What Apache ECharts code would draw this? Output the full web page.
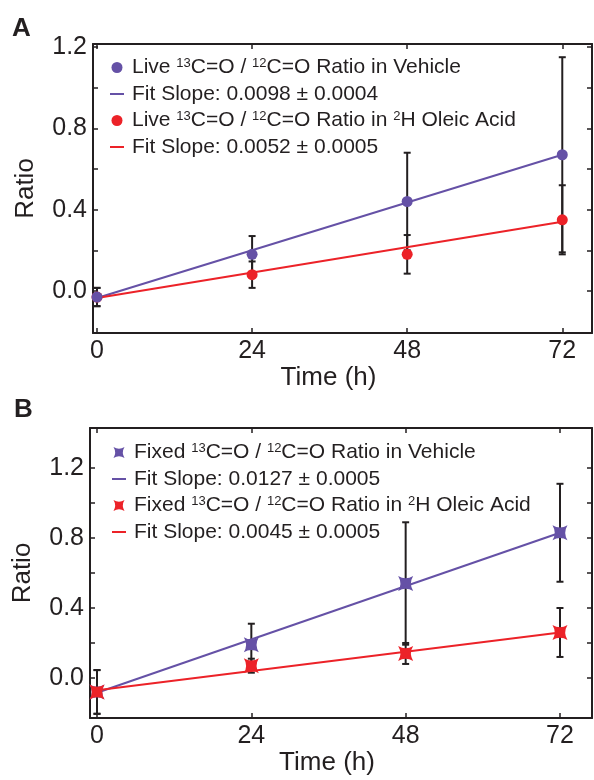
<!DOCTYPE html>
<html>
<head>
<meta charset="utf-8">
<script src="https://cdn.jsdelivr.net/npm/echarts@6/dist/echarts.min.js"></script>
<style>html,body{margin:0;padding:0;background:#fff;}#c{width:594px;height:780px;}</style>
</head>
<body>
<div id="c"></div>
<script>
// ---- Data ----
const timePoints = [0, 24, 48, 72];
const fitTimes = [0, 72];
const xTicks = [0, 24, 48, 72];
const yTickLabels = [0, 0.4, 0.8, 1.2];
const yMinorTicks = [0, 0.2, 0.4, 0.6, 0.8, 1.0, 1.2];

// Panel A: live cells
const liveVehicleMean = [-0.03, 0.18, 0.44, 0.67];
const liveVehicleErr  = [0.045, 0.09, 0.24, 0.48];
const liveOleicMean   = [-0.03, 0.08, 0.18, 0.35];
const liveOleicErr    = [0.045, 0.065, 0.095, 0.17];
const liveVehicleFit  = [-0.035, 0.67];
const liveOleicFit    = [-0.035, 0.34];

// Panel B: fixed cells
const fixedVehicleMean = [-0.08, 0.19, 0.54, 0.83];
const fixedVehicleErr  = [0.125, 0.12, 0.35, 0.28];
const fixedOleicMean   = [-0.08, 0.07, 0.14, 0.26];
const fixedOleicErr    = [0.125, 0.04, 0.06, 0.14];
const fixedVehicleFit  = [-0.085, 0.83];
const fixedOleicFit    = [-0.07, 0.26];

const legendA = ['Live Vehicle', 'Fit Vehicle A', 'Live Oleic', 'Fit Oleic A'];
const legendB = ['Fixed Vehicle', 'Fit Vehicle B', 'Fixed Oleic', 'Fit Oleic B'];
const legendText = {
  'Live Vehicle': '{a|Live }{s|13}{a|C=O / }{s|12}{a|C=O Ratio in Vehicle}',
  'Fit Vehicle A': '{a|Fit Slope: 0.0098 ± 0.0004}',
  'Live Oleic': '{a|Live }{s|13}{a|C=O / }{s|12}{a|C=O Ratio in }{s|2}{a|H Oleic Acid}',
  'Fit Oleic A': '{a|Fit Slope: 0.0052 ± 0.0005}',
  'Fixed Vehicle': '{a|Fixed }{s|13}{a|C=O / }{s|12}{a|C=O Ratio in Vehicle}',
  'Fit Vehicle B': '{a|Fit Slope: 0.0127 ± 0.0005}',
  'Fixed Oleic': '{a|Fixed }{s|13}{a|C=O / }{s|12}{a|C=O Ratio in }{s|2}{a|H Oleic Acid}',
  'Fit Oleic B': '{a|Fit Slope: 0.0045 ± 0.0005}'
};

// ---- Styles ----
const FONT = '"Liberation Sans", Arial, Helvetica, sans-serif';
const INK = '#231f20';
const PURPLE = '#6551a6';
const RED = '#ec2228';
const STAR = 'path://M0,0 Q10,6 20,0 Q14,10 20,20 Q10,14 0,20 Q6,10 0,0 Z';
const DASH = 'path://M0,0 L0,0 M0,4.5 L14,4.5 L14,6.5 L0,6.5 Z M14,11 L14,11';

function pairs(xs, ys) { return xs.map((x, i) => [x, ys[i]]); }
function errData(xs, m, e) { return xs.map((x, i) => [x, m[i] - e[i], m[i] + e[i]]); }

function errorSeries(xi, data) {
  return {
    type: 'custom', xAxisIndex: xi, yAxisIndex: xi, z: 2, silent: true,
    data: data,
    renderItem: function (params, api) {
      const x = api.value(0);
      const lo = api.coord([x, api.value(1)]);
      const hi = api.coord([x, api.value(2)]);
      const w = 3.5;
      const st = { stroke: INK, lineWidth: 2 };
      return { type: 'group', children: [
        { type: 'line', shape: { x1: lo[0], y1: lo[1], x2: hi[0], y2: hi[1] }, style: st },
        { type: 'line', shape: { x1: lo[0] - w, y1: lo[1], x2: lo[0] + w, y2: lo[1] }, style: st },
        { type: 'line', shape: { x1: hi[0] - w, y1: hi[1], x2: hi[0] + w, y2: hi[1] }, style: st }
      ]};
    }
  };
}
function fitSeries(name, xi, data, color) {
  return { name: name, type: 'line', xAxisIndex: xi, yAxisIndex: xi, z: 3, symbol: 'none',
    data: data, lineStyle: { color: color, width: 2 }, itemStyle: { color: color }, silent: true };
}
function markerSeries(name, xi, data, color, symbol, size) {
  return { name: name, type: 'scatter', xAxisIndex: xi, yAxisIndex: xi, z: 5, symbol: symbol,
    symbolSize: size, data: data, itemStyle: { color: color, opacity: 1 }, silent: true };
}

function xAxes(grid, min, max, gap) {
  const base = {
    gridIndex: grid, type: 'value', min: min, max: max,
    axisLine: { show: true, onZero: false, lineStyle: { color: INK, width: 2 } },
    axisTick: { show: true, inside: true, length: 5, customValues: xTicks, lineStyle: { color: INK, width: 1.5 } },
    splitLine: { show: false }
  };
  return [
    Object.assign({}, base, {
      position: 'bottom',
      axisLabel: { show: true, customValues: xTicks, margin: 6, color: INK, fontSize: 25, fontFamily: FONT },
      name: 'Time (h)', nameLocation: 'middle', nameGap: gap,
      nameTextStyle: { color: INK, fontSize: 26, fontFamily: FONT, padding: [0, 28, 0, 0] }
    }),
    Object.assign({}, base, { position: 'top', axisLabel: { show: false } })
  ];
}
function yAxes(grid, min, max) {
  const base = {
    gridIndex: grid, type: 'value', min: min, max: max,
    axisLine: { show: true, onZero: false, lineStyle: { color: INK, width: 2 } },
    axisTick: { show: true, inside: true, length: 5, customValues: yMinorTicks, lineStyle: { color: INK, width: 1.5 } },
    splitLine: { show: false }
  };
  return [
    Object.assign({}, base, {
      position: 'left',
      axisLabel: { show: true, customValues: yTickLabels, margin: 6, color: INK, fontSize: 25, fontFamily: FONT,
        formatter: v => v.toFixed(1) },
      name: 'Ratio', nameLocation: 'middle', nameGap: 54, nameRotate: 90,
      nameTextStyle: { color: INK, fontSize: 26, fontFamily: FONT }
    }),
    Object.assign({}, base, { position: 'right', axisLabel: { show: false } })
  ];
}

function legend(names, left, top) {
  return {
    data: names.map((n, i) => (i % 2 === 1 ? { name: n, icon: DASH } : { name: n })),
    orient: 'vertical', left: left, top: top, itemGap: 5.5, padding: 0,
    itemWidth: 14, itemHeight: 11, selectedMode: false,
    formatter: n => legendText[n],
    textStyle: {
      padding: [0, 0, 0, 3],
      rich: {
        a: { fontSize: 21, fontFamily: FONT, color: INK, lineHeight: 21 },
        s: { fontSize: 13, fontFamily: FONT, color: INK, lineHeight: 14, verticalAlign: 'top' }
      }
    }
  };
}

const chart = echarts.init(document.getElementById('c'), null, { renderer: 'canvas' });
chart.setOption({
  backgroundColor: '#ffffff',
  animation: false,
  grid: [
    { left: 93, top: 44, width: 499, height: 289 },
    { left: 90, top: 428, width: 502, height: 290 }
  ],
  xAxis: [].concat(xAxes(0, -0.62, 76.6, 26), xAxes(1, -1.09, 76.98, 31)),
  yAxis: [].concat(yAxes(0, -0.207, 1.215), yAxes(1, -0.229, 1.429)),
  legend: [legend(legendA, 110, 57), legend(legendB, 112, 442)],
  graphic: [
    { type: 'text', left: 12, top: 16, style: { text: 'A', fontSize: 26, fontWeight: 'bold', fontFamily: FONT, fill: INK } },
    { type: 'text', left: 14, top: 397, style: { text: 'B', fontSize: 26, fontWeight: 'bold', fontFamily: FONT, fill: INK } }
  ],
  series: [
    errorSeries(0, errData(timePoints, liveVehicleMean, liveVehicleErr)),
    errorSeries(0, errData(timePoints, liveOleicMean, liveOleicErr)),
    fitSeries('Fit Vehicle A', 0, pairs(fitTimes, liveVehicleFit), PURPLE),
    fitSeries('Fit Oleic A', 0, pairs(fitTimes, liveOleicFit), RED),
    markerSeries('Live Oleic', 0, pairs(timePoints, liveOleicMean), RED, 'circle', 11),
    markerSeries('Live Vehicle', 0, pairs(timePoints, liveVehicleMean), PURPLE, 'circle', 11),

    errorSeries(2, errData(timePoints, fixedVehicleMean, fixedVehicleErr)),
    errorSeries(2, errData(timePoints, fixedOleicMean, fixedOleicErr)),
    fitSeries('Fit Vehicle B', 2, pairs(fitTimes, fixedVehicleFit), PURPLE),
    fitSeries('Fit Oleic B', 2, pairs(fitTimes, fixedOleicFit), RED),
    markerSeries('Fixed Vehicle', 2, pairs(timePoints, fixedVehicleMean), PURPLE, STAR, 15),
    markerSeries('Fixed Oleic', 2, pairs(timePoints, fixedOleicMean), RED, STAR, 15)
  ]
});
</script>
</body>
</html>
